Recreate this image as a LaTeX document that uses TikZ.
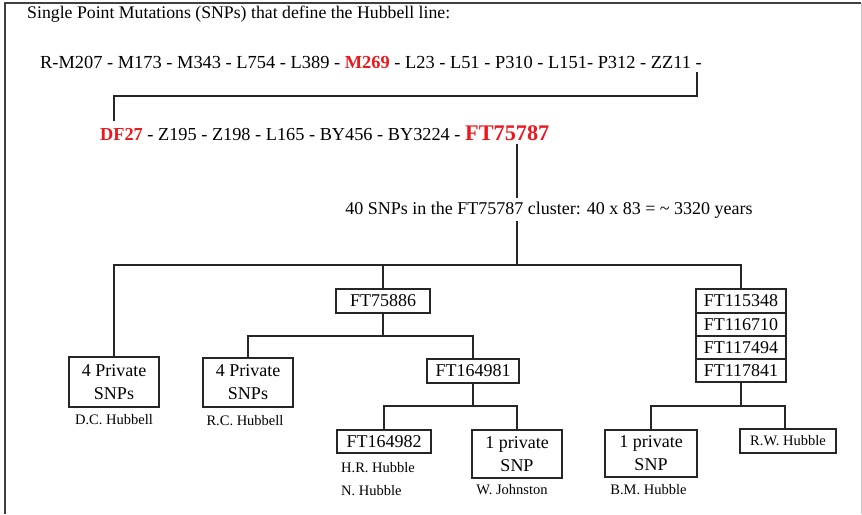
\documentclass[tikz,border=0pt]{standalone}
\usepackage{fontspec}
\setmainfont{Liberation Serif}
\definecolor{snpred}{RGB}{235,25,30}
\begin{document}
\begin{tikzpicture}[x=1pt,y=-1pt,
  every node/.style={inner sep=0pt, text=black},
  main/.style={font=\fontsize{18}{23}\selectfont},
  small/.style={font=\fontsize{14.5}{17}\selectfont},
  box/.style={draw=black!85, line width=1.4pt, fill=white, align=center, main, inner sep=0pt},
  link/.style={draw=black!85, line width=1.2pt},
  frame/.style={line width=2pt, black!75}
]
\useasboundingbox (0,0) rectangle (862,514);
% frame
\draw[frame] (5,514) -- (5,3) -- (861,3);
\draw[gray!45, line width=0.8pt] (861,3) -- (861,514);

% texts
\node[font=\fontsize{17.75}{21}\selectfont, anchor=base west] (title) at (27,19) {Single Point Mutations (SNPs) that define the Hubbell line:};
\node[font=\fontsize{18.4}{22}\selectfont, anchor=base west, inner xsep=0pt, inner ysep=4pt] (l1) at (40,68) {R-M207 - M173 - M343 - L754 - L389 - \textcolor{snpred}{\textbf{M269}} - L23 - L51 - P310 - L151- P312 - ZZ11 -};
\node[font=\fontsize{18.3}{22}\selectfont, anchor=base west, inner xsep=0pt, inner ysep=4pt] (l2) at (100,140) {\textcolor{snpred}{\textbf{DF27}} - Z195 - Z198 - L165 - BY456 - BY3224 - \textcolor{snpred}{\fontsize{22.3}{24}\selectfont\textbf{FT75787}}};
\node[main, anchor=base, inner xsep=0pt, inner ysep=3pt] (cl) at (549,214) {40 SNPs in the FT75787 cluster: 40 x 83 = \textasciitilde{} 3320 years};

\coordinate (k1) at (697,96);
\coordinate (k2) at (114,96);
\coordinate (b1) at (517,265);

% boxes
\node[box, minimum width=90pt, minimum height=50pt] (p1) at (114,382) {4 Private\\SNPs};
\node[box, minimum width=90pt, minimum height=49pt] (p2) at (248,382.5) {4 Private\\SNPs};
\node[box, minimum width=94pt, minimum height=24pt] (f886) at (383,301) {FT75886};
\node[box, minimum width=92pt, minimum height=24pt] (f981) at (473,371) {FT164981};
\node[box, minimum width=94pt, minimum height=23pt] (f982) at (384,441.5) {FT164982};
\node[box, minimum width=90pt, minimum height=48pt] (q1) at (517,454) {1 private\\SNP};
\node[box, minimum width=90pt, minimum height=24pt] (s1) at (741,301) {FT115348};
\node[box, minimum width=90pt, minimum height=23pt] (s2) at (741,324.5) {FT116710};
\node[box, minimum width=90pt, minimum height=23pt] (s3) at (741,347.5) {FT117494};
\node[box, minimum width=90pt, minimum height=23pt] (s4) at (741,370.5) {FT117841};
\node[box, minimum width=92pt, minimum height=47pt] (q2) at (651,453.5) {1 private\\SNP};
\node[box, small, minimum width=96pt, minimum height=24pt] (rw) at (788,441) {R.W. Hubble};

% labels
\node[small, anchor=base] (lp1) at (114,424) {D.C. Hubbell};
\node[small, anchor=base] (lp2) at (245,425) {R.C. Hubbell};
\node[small, anchor=base west] (lhr) at (341,472) {H.R. Hubble};
\node[small, anchor=base west] (lnh) at (341,495) {N. Hubble};
\node[small, anchor=base] (lwj) at (512,494) {W. Johnston};
\node[small, anchor=base] (lbm) at (648.5,494) {B.M. Hubble};

% connectors
\draw[link] (l1.south -| k1) -- (k1) -- (k2) -- (l2.north -| k2);
\draw[link] (l2.south -| b1) -- (cl.north -| b1);
\draw[link] (cl.south -| b1) -- (b1);
\draw[link] (b1) -| (p1.north);
\draw[link] (b1) -| (f886.north);
\draw[link] (b1) -| (s1.north);
\coordinate (j2) at (383,336);
\draw[link] (f886.south) -- (j2);
\draw[link] (j2) -| (p2.north);
\draw[link] (j2) -| (f981.north);
\coordinate (j3) at (473,406);
\draw[link] (f981.south) -- (j3);
\draw[link] (j3) -| (f982.north);
\draw[link] (j3) -| (q1.north);
\coordinate (j4) at (741,406);
\draw[link] (s4.south) -- (j4);
\draw[link] (j4) -| (q2.north);
\draw[link] (j4) -| ([xshift=-3pt]rw.north);
\end{tikzpicture}
\end{document}
